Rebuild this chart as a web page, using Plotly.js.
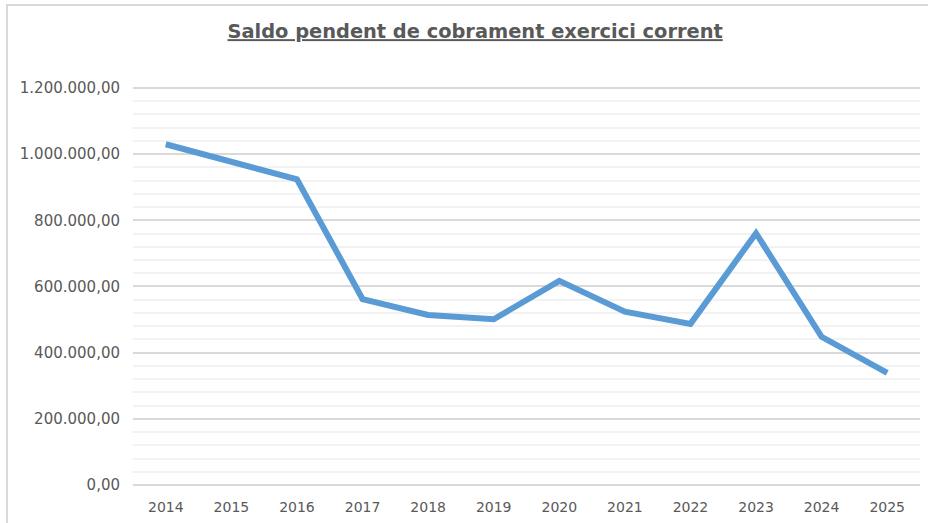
<!DOCTYPE html>
<html>
<head>
<meta charset="utf-8">
<script src="https://cdn.plot.ly/plotly-3.0.1.min.js"></script>
<style>
html,body{margin:0;padding:0;background:#fff;}
#frame{position:absolute;left:6px;top:4px;width:940px;height:540px;border:2px solid #d9d9d9;box-sizing:border-box;}
#chart{position:absolute;left:0;top:0;width:928px;height:523px;}
</style>
</head>
<body>
<div id="frame"></div>
<div id="chart"></div>
<script>
const years = ["2014","2015","2016","2017","2018","2019","2020","2021","2022","2023","2024","2025"];
const saldo = [1030000, 977000, 924000, 562000, 514000, 501000, 617000, 524000, 487000, 761000, 448000, 339000];

const trace = {
  x: years,
  y: saldo,
  type: 'scatter',
  mode: 'lines',
  line: {color: '#5B9BD5', width: 6, shape: 'linear'},
  hoverinfo: 'skip'
};

const layout = {
  width: 928, height: 523,
  paper_bgcolor: 'rgba(0,0,0,0)',
  plot_bgcolor: 'rgba(0,0,0,0)',
  margin: {l: 133, r: 8, t: 86, b: 38},
  separators: ',.',
  showlegend: false,
  font: {family: 'DejaVu Sans, Verdana, sans-serif', size: 14, color: '#595959'},
  title: {
    text: '<b><u>Saldo pendent de cobrament exercici corrent</u></b>',
    font: {family: 'DejaVu Sans, Verdana, sans-serif', size: 19.4, color: '#595959'},
    x: 0.512, xanchor: 'center', y: 0.94, yanchor: 'middle'
  },
  xaxis: {
    type: 'category',
    range: [-0.5, 11.5],
    showgrid: false,
    zeroline: false,
    showline: false,
    ticks: '',
    ticklabelstandoff: 12,
    tickfont: {size: 14, color: '#595959'}
  },
  yaxis: {
    range: [0, 1206000],
    tick0: 0,
    dtick: 200000,
    tickformat: ',.2f',
    showgrid: true,
    gridcolor: '#d9d9d9',
    gridwidth: 2,
    zeroline: true,
    zerolinecolor: '#d9d9d9',
    zerolinewidth: 2,
    showline: false,
    ticks: '',
    ticklabelstandoff: 12,
    tickfont: {size: 15, color: '#595959'},
    minor: {dtick: 40000, showgrid: true, gridcolor: '#f2f2f2', gridwidth: 2}
  }
};

Plotly.newPlot('chart', [trace], layout, {displayModeBar: false, staticPlot: true});
</script>
</body>
</html>
